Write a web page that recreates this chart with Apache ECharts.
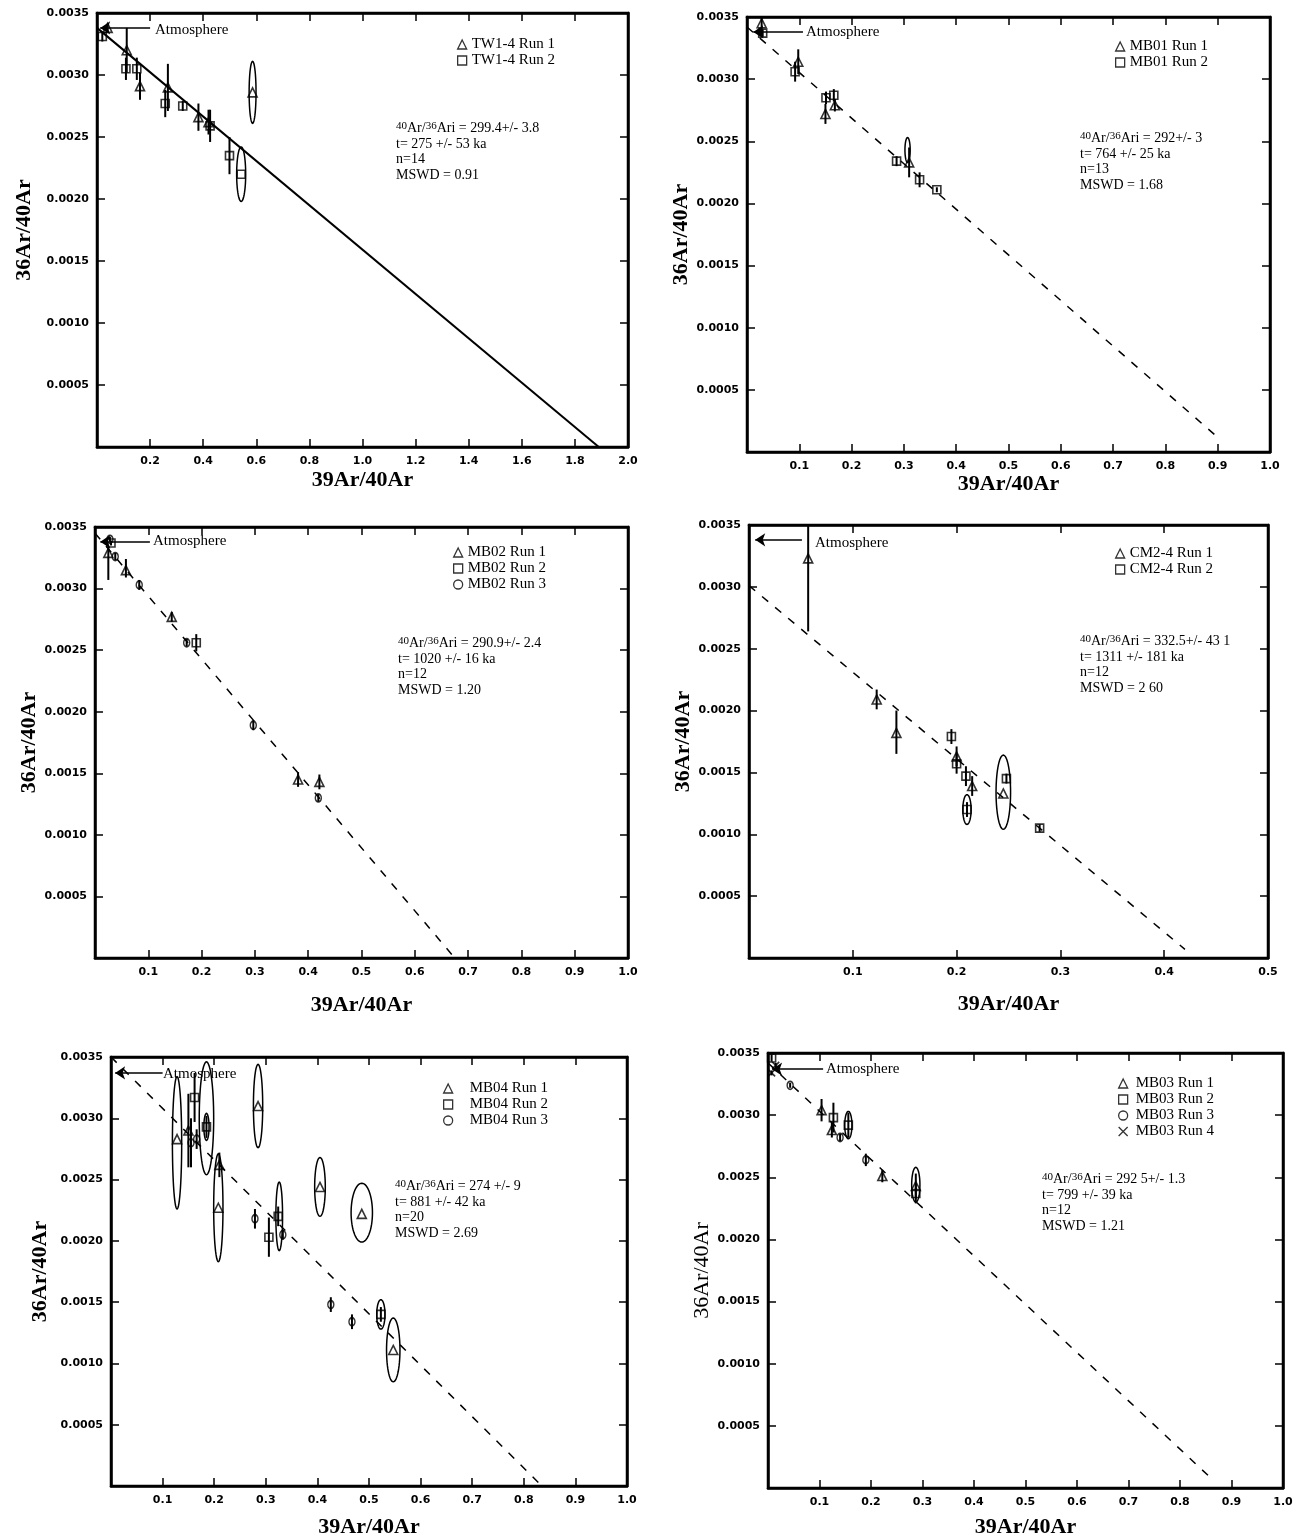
<!DOCTYPE html>
<html>
<head>
<meta charset="utf-8">
<script src="https://cdn.jsdelivr.net/npm/echarts@6/dist/echarts.min.js"></script>
<style>
  html, body { margin: 0; background: #fff; }
  #main { width: 1303px; height: 1539px; }
</style>
</head>
<body>
<div id="main"></div>
<script>
  //fonts
  var serif = 'Liberation Serif';
  var tickFont = 'DejaVu Sans';

  //points are [x, y, errDown, errUp?]; ellipses are [x, y, rx, ry]

  //TW1-4
  var tw14Run1 = [[0.04, 0.00338, 0.00003], [0.112, 0.00320, 0.00018], [0.162, 0.00291, 0.00011], [0.267, 0.00290, 0.00019],
    [0.382, 0.00266, 0.00011], [0.42, 0.00262, 0.0001], [0.586, 0.00286, 0]];
  var tw14Run2 = [[0.02, 0.00331, 0.00004], [0.109, 0.00305, 0.00009], [0.150, 0.00305, 0.00009], [0.257, 0.00277, 0.00011],
    [0.323, 0.00275, 0.00004], [0.426, 0.00259, 0.00013], [0.499, 0.00235, 0.00015], [0.543, 0.00220, 0]];
  var tw14Ellipses = [[0.586, 0.00286, 0.013, 0.00025], [0.543, 0.00220, 0.017, 0.00022]];
  var tw14Fit = [[0, 0.00338], [1.89, 0]];
  var tw14Atmo = [[0.2, 0.00338], [0.012, 0.00338]];
  var tw14Stats = ['{s|40}Ar/{s|36}Ari = 299.4+/- 3.8', 't= 275 +/- 53 ka', 'n=14', 'MSWD = 0.91'];

  //MB01
  var mb01Run1 = [[0.028, 0.00345, 0.0001], [0.098, 0.00314, 0.0001], [0.168, 0.00279, 0.00005], [0.15, 0.00272, 0.00008],
    [0.31, 0.00233, 0.00012]];
  var mb01Run2 = [[0.03, 0.00337, 0.00003], [0.092, 0.00306, 0.00008], [0.151, 0.00285, 0.00005], [0.166, 0.00287, 0.00005],
    [0.286, 0.00234, 0.00004], [0.33, 0.00219, 0.00006], [0.363, 0.00211, 0.00002]];
  var mb01Ellipses = [[0.307, 0.00243, 0.005, 0.0001]];
  var mb01Fit = [[0, 0.00342], [0.905, 0.0001]];
  var mb01Atmo = [[0.107, 0.00338], [0.012, 0.00338]];
  var mb01Stats = ['{s|40}Ar/{s|36}Ari = 292+/- 3', 't= 764 +/- 25 ka', 'n=13', 'MSWD = 1.68'];

  //MB02
  var mb02Run1 = [[0.025, 0.00329, 0.00022, 0.00005], [0.058, 0.00315, 0.00006, 0.00009], [0.144, 0.00277, 0.00004],
    [0.381, 0.00145, 0.00006], [0.421, 0.00143, 0.00006]];
  var mb02Run2 = [[0.03, 0.00337, 0.00002], [0.19, 0.00256, 0.00007]];
  var mb02Run3 = [[0.028, 0.0034, 0.00002], [0.038, 0.00326, 0.00003], [0.083, 0.00303, 0.00004], [0.172, 0.00256, 0.00003],
    [0.297, 0.00189, 0.00004], [0.419, 0.0013, 0.00003]];
  var mb02Ellipses = [];
  var mb02Fit = [[0, 0.00345], [0.675, 0]];
  var mb02Atmo = [[0.103, 0.00338], [0.01, 0.00338]];
  var mb02Stats = ['{s|40}Ar/{s|36}Ari = 290.9+/- 2.4', 't= 1020 +/- 16 ka', 'n=12', 'MSWD = 1.20'];

  //CM2-4
  var cm24Run1 = [[0.057, 0.00323, 0.00059, 0.0003], [0.123, 0.00209, 0.00008], [0.142, 0.00182, 0.00017, 0.00018],
    [0.2, 0.00163, 0.00008], [0.215, 0.00139, 0.00008], [0.245, 0.00133, 0]];
  var cm24Run2 = [[0.195, 0.00179, 0.00006], [0.2, 0.00157, 0.00008], [0.209, 0.00147, 0.00008], [0.21, 0.0012, 0.00006],
    [0.248, 0.00145, 0.00004], [0.28, 0.00105, 0.00003]];
  var cm24Ellipses = [[0.21, 0.0012, 0.004, 0.00012], [0.245, 0.00134, 0.007, 0.0003]];
  var cm24Fit = [[0, 0.00301], [0.42, 0.00007]];
  var cm24Atmo = [[0.051, 0.00338], [0.006, 0.00338]];
  var cm24Stats = ['{s|40}Ar/{s|36}Ari = 332.5+/- 43 1', 't= 1311 +/- 181 ka', 'n=12', 'MSWD = 2 60'];

  //MB04
  var mb04Run1 = [[0.128, 0.00283, 0], [0.15, 0.0029, 0.0003], [0.208, 0.00227, 0], [0.21, 0.00262, 0.0001], [0.285, 0.0031, 0],
    [0.405, 0.00244, 0], [0.486, 0.00222, 0], [0.547, 0.00111, 0]];
  var mb04Run2 = [[0.162, 0.00317, 0.0002], [0.185, 0.00293, 0.00009], [0.306, 0.00203, 0.00016], [0.324, 0.0022, 0.00008],
    [0.523, 0.0014, 0.00006]];
  var mb04Run3 = [[0.155, 0.0028, 0.0002], [0.166, 0.00283, 0.00008], [0.279, 0.00218, 0.00008], [0.333, 0.00205, 0.00004],
    [0.426, 0.00148, 0.00006], [0.467, 0.00134, 0.00006]];
  var mb04Ellipses = [[0.128, 0.0028, 0.009, 0.00054], [0.185, 0.003, 0.014, 0.00046], [0.185, 0.00293, 0.005, 0.00011],
    [0.208, 0.00227, 0.009, 0.00044], [0.285, 0.0031, 0.009, 0.00034], [0.326, 0.0022, 0.0065, 0.00028],
    [0.405, 0.00244, 0.0103, 0.00024], [0.486, 0.00223, 0.0207, 0.00024], [0.547, 0.00111, 0.013, 0.00026],
    [0.523, 0.0014, 0.008, 0.00012]];
  var mb04Fit = [[0, 0.0035], [0.835, 0]];
  var mb04Atmo = [[0.1, 0.00337], [0.008, 0.00337]];
  var mb04Stats = ['{s|40}Ar/{s|36}Ari = 274 +/- 9', 't= 881 +/- 42 ka', 'n=20', 'MSWD = 2.69'];

  //MB03
  var mb03Run1 = [[0.104, 0.00304, 0.00009], [0.124, 0.00288, 0.00006], [0.222, 0.00251, 0.00005], [0.287, 0.00243, 0.0001]];
  var mb03Run2 = [[0.007, 0.00346, 0.00003], [0.127, 0.00298, 0.00012], [0.156, 0.00292, 0.0001], [0.287, 0.00237, 0.00008]];
  var mb03Run3 = [[0.043, 0.00324, 0.00002], [0.14, 0.00282, 0.00003], [0.19, 0.00264, 0.00005]];
  var mb03Run4 = [[0.007, 0.00334, 0.00002], [0.015, 0.0034, 0.00002]];
  var mb03Ellipses = [[0.156, 0.00292, 0.007, 0.00011], [0.287, 0.00244, 0.008, 0.00014]];
  var mb03Fit = [[0, 0.00342], [0.86, 0.00008]];
  var mb03Atmo = [[0.107, 0.00337], [0.008, 0.00337]];
  var mb03Stats = ['{s|40}Ar/{s|36}Ari = 292 5+/- 1.3', 't= 799 +/- 39 ka', 'n=12', 'MSWD = 1.21'];

  //symbols
  var SYMBOLS = {
    tri: {symbol: 'triangle', size: 9},
    sq: {symbol: 'rect', size: 8},
    circ: {symbol: 'circle', size: [6, 8]},
    cross: {symbol: 'path://M0,0L10,10M10,0L0,10', size: 7}
  };

  //panel layout: box = [left, top, width, height]
  var panels = [
    {
      box: [97, 13, 531, 434], xMax: 2.0, xStep: 0.2, dashed: false,
      runs: [{name: 'TW1-4 Run 1', sym: 'tri', data: tw14Run1}, {name: 'TW1-4 Run 2', sym: 'sq', data: tw14Run2}],
      ellipses: tw14Ellipses, fit: tw14Fit, atmo: tw14Atmo, stats: tw14Stats,
      legendPos: [457, 37], legendPad: 0, statsPos: [396, 121], atmoText: [155, 30],
      xNameGap: 22, yNameGap: 62, yNameBold: true
    },
    {
      box: [747, 17, 523, 435], xMax: 1.0, xStep: 0.1, dashed: true,
      runs: [{name: 'MB01 Run 1', sym: 'tri', data: mb01Run1}, {name: 'MB01 Run 2', sym: 'sq', data: mb01Run2}],
      ellipses: mb01Ellipses, fit: mb01Fit, atmo: mb01Atmo, stats: mb01Stats,
      legendPos: [1115, 39], legendPad: 0, statsPos: [1080, 131], atmoText: [806, 32],
      xNameGap: 18, yNameGap: 52, yNameBold: true
    },
    {
      box: [95, 527, 533, 431], xMax: 1.0, xStep: 0.1, dashed: true,
      runs: [{name: 'MB02 Run 1', sym: 'tri', data: mb02Run1}, {name: 'MB02 Run 2', sym: 'sq', data: mb02Run2},
        {name: 'MB02 Run 3', sym: 'circ', data: mb02Run3}],
      ellipses: mb02Ellipses, fit: mb02Fit, atmo: mb02Atmo, stats: mb02Stats,
      legendPos: [453, 545], legendPad: 0, statsPos: [398, 636], atmoText: [153, 541],
      xNameGap: 36, yNameGap: 37, yNameBold: true
    },
    {
      box: [749, 525, 519, 433], xMax: 0.5, xStep: 0.1, dashed: true,
      runs: [{name: 'CM2-4 Run 1', sym: 'tri', data: cm24Run1}, {name: 'CM2-4 Run 2', sym: 'sq', data: cm24Run2}],
      ellipses: cm24Ellipses, fit: cm24Fit, atmo: cm24Atmo, stats: cm24Stats,
      legendPos: [1115, 546], legendPad: 0, statsPos: [1080, 634], atmoText: [815, 543],
      xNameGap: 35, yNameGap: 54, yNameBold: true
    },
    {
      box: [111, 1057, 516, 435], xMax: 1.0, xStep: 0.1, dashed: true,
      runs: [{name: 'MB04 Run 1', sym: 'tri', data: mb04Run1}, {name: 'MB04 Run 2', sym: 'sq', data: mb04Run2},
        {name: 'MB04 Run 3', sym: 'circ', data: mb04Run3}],
      ellipses: mb04Ellipses, fit: mb04Fit, atmo: mb04Atmo, stats: mb04Stats,
      legendPos: [443, 1081], legendPad: 12, statsPos: [395, 1179], atmoText: [163, 1074],
      xNameGap: 30, yNameGap: 60, yNameBold: true
    },
    {
      box: [768, 1053, 515, 437], xMax: 1.0, xStep: 0.1, dashed: true,
      runs: [{name: 'MB03 Run 1', sym: 'tri', data: mb03Run1}, {name: 'MB03 Run 2', sym: 'sq', data: mb03Run2},
        {name: 'MB03 Run 3', sym: 'circ', data: mb03Run3}, {name: 'MB03 Run 4', sym: 'cross', data: mb03Run4}],
      ellipses: mb03Ellipses, fit: mb03Fit, atmo: mb03Atmo, stats: mb03Stats,
      legendPos: [1118, 1076], legendPad: 3, statsPos: [1042, 1172], atmoText: [826, 1069],
      xNameGap: 28, yNameGap: 45, yNameBold: false
    }
  ];

  //误差棒
  function renderErr(params, api) {
    var x = api.value(0), y = api.value(1);
    var lo = api.coord([x, y - api.value(2)]);
    var hi = api.coord([x, y + api.value(3)]);
    return {
      type: 'line',
      shape: {x1: lo[0], y1: lo[1], x2: hi[0], y2: hi[1]},
      style: {stroke: '#000', lineWidth: 2}
    };
  }

  //误差椭圆
  function renderEllipse(params, api) {
    var c = api.coord([api.value(0), api.value(1)]);
    var s = api.size([api.value(2), api.value(3)]);
    var pts = [];
    for (var k = 0; k < 60; k++) {
      var a = k / 60 * Math.PI * 2;
      pts.push([c[0] + s[0] * Math.cos(a), c[1] + s[1] * Math.sin(a)]);
    }
    return {type: 'polygon', shape: {points: pts}, style: {fill: 'none', stroke: '#000', lineWidth: 1.5}};
  }

  function tickLabel(digits) {
    return function (v) {
      return Math.abs(v) < 1e-9 ? '' : v.toFixed(digits);
    };
  }

  //刻度朝内
  function makeTick() {
    return {show: true, inside: true, length: 8, lineStyle: {color: '#000', width: 1.5}};
  }

  var option = {
    animation: false,
    backgroundColor: '#fff',
    grid: [], xAxis: [], yAxis: [], series: [], legend: [], graphic: []
  };

  panels.forEach(function (p, i) {
    option.grid.push({
      left: p.box[0], top: p.box[1], width: p.box[2], height: p.box[3],
      show: true, borderColor: '#000', borderWidth: 2.5, backgroundColor: 'transparent'
    });

    var labelStyle = {color: '#000', fontFamily: tickFont, fontWeight: 'bold', fontSize: 11};
    var nameStyle = {color: '#000', fontFamily: serif, fontWeight: 'bold', fontSize: 22};

    option.xAxis.push({
      gridIndex: i, type: 'value', min: 0, max: p.xMax, interval: p.xStep, position: 'bottom',
      axisLine: {show: true, onZero: false, lineStyle: {color: '#000', width: 2.5}},
      axisTick: makeTick(), splitLine: {show: false},
      axisLabel: Object.assign({margin: 9, formatter: tickLabel(1)}, labelStyle),
      name: '39Ar/40Ar', nameLocation: 'middle', nameGap: p.xNameGap, nameTextStyle: nameStyle
    });
    option.xAxis.push({
      gridIndex: i, type: 'value', min: 0, max: p.xMax, interval: p.xStep, position: 'top',
      axisLine: {show: true, onZero: false, lineStyle: {color: '#000', width: 2.5}},
      axisTick: makeTick(), splitLine: {show: false}, axisLabel: {show: false}
    });
    option.yAxis.push({
      gridIndex: i, type: 'value', min: 0, max: 0.0035, interval: 0.0005, position: 'left',
      axisLine: {show: true, onZero: false, lineStyle: {color: '#000', width: 2.5}},
      axisTick: makeTick(), splitLine: {show: false},
      axisLabel: Object.assign({margin: 8, formatter: tickLabel(4)}, labelStyle),
      name: '36Ar/40Ar', nameLocation: 'middle', nameRotate: 90, nameGap: p.yNameGap,
      nameTextStyle: Object.assign({}, nameStyle, {fontWeight: p.yNameBold ? 'bold' : 'normal'})
    });
    option.yAxis.push({
      gridIndex: i, type: 'value', min: 0, max: 0.0035, interval: 0.0005, position: 'right',
      axisLine: {show: true, onZero: false, lineStyle: {color: '#000', width: 2.5}},
      axisTick: makeTick(), splitLine: {show: false}, axisLabel: {show: false}
    });

    var xi = i * 2, yi = i * 2;

    //等时线
    option.series.push({
      type: 'line', xAxisIndex: xi, yAxisIndex: yi, data: p.fit, showSymbol: false, symbol: 'none', z: 1,
      silent: true,
      lineStyle: {color: '#000', width: p.dashed ? 1.5 : 2, type: p.dashed ? [8, 9] : 'solid'}
    });

    //大气值箭头
    option.series.push({
      type: 'lines', coordinateSystem: 'cartesian2d', xAxisIndex: xi, yAxisIndex: yi, z: 5, silent: true,
      symbol: ['none', 'arrow'], symbolSize: 10,
      lineStyle: {color: '#000', width: 1.5, opacity: 1},
      data: [{coords: p.atmo}]
    });

    var errData = [];
    p.runs.forEach(function (r) {
      r.data.forEach(function (d) {
        if (d[2] > 0) {
          errData.push([d[0], d[1], d[2], d.length > 3 ? d[3] : d[2]]);
        }
      });
    });
    option.series.push({
      type: 'custom', xAxisIndex: xi, yAxisIndex: yi, renderItem: renderErr, data: errData,
      encode: {x: 0, y: 1}, clip: true, z: 2, silent: true
    });

    if (p.ellipses.length) {
      option.series.push({
        type: 'custom', xAxisIndex: xi, yAxisIndex: yi, renderItem: renderEllipse, data: p.ellipses,
        encode: {x: 0, y: 1}, clip: true, z: 3, silent: true
      });
    }

    p.runs.forEach(function (r) {
      var s = SYMBOLS[r.sym];
      option.series.push({
        name: r.name, type: 'scatter', xAxisIndex: xi, yAxisIndex: yi, z: 4, silent: true,
        symbol: s.symbol, symbolSize: s.size,
        itemStyle: {color: 'transparent', borderColor: '#000', borderWidth: 1.6},
        data: r.data.map(function (d) {
          return [d[0], d[1]];
        })
      });
    });

    option.legend.push({
      orient: 'vertical', left: p.legendPos[0], top: p.legendPos[1], itemWidth: 9, itemHeight: 9, itemGap: 1,
      selectedMode: false, padding: 0,
      data: p.runs.map(function (r) {
        return r.name;
      }),
      itemStyle: {color: 'transparent', borderColor: '#000', borderWidth: 1.3},
      textStyle: {fontFamily: serif, fontSize: 15, color: '#000', lineHeight: 15, padding: [0, 0, 0, p.legendPad]}
    });

    //统计结果
    option.graphic.push({
      type: 'text', x: p.statsPos[0], y: p.statsPos[1], silent: true,
      style: {
        text: p.stats.join('\n'), fill: '#000', fontFamily: serif, fontSize: 14, lineHeight: 15.5,
        verticalAlign: 'top',
        rich: {s: {fontFamily: serif, fontSize: 11, verticalAlign: 'top', lineHeight: 15.5}}
      }
    });
    option.graphic.push({
      type: 'text', x: p.atmoText[0], y: p.atmoText[1], silent: true,
      style: {text: 'Atmosphere', fill: '#000', fontFamily: serif, fontSize: 15, verticalAlign: 'middle'}
    });
  });

  var chart = echarts.init(document.getElementById('main'));
  chart.setOption(option);
</script>
</body>
</html>
